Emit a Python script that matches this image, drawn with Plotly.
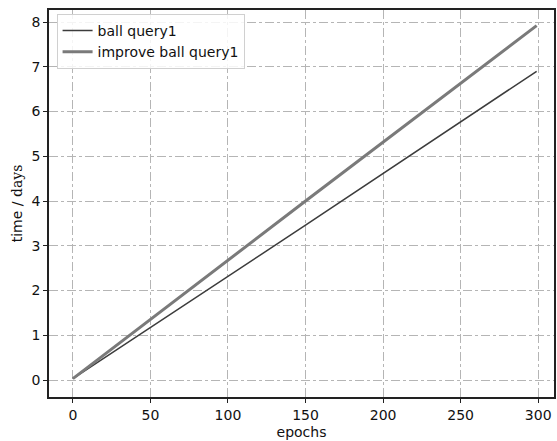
import plotly.graph_objects as go

epochs = [0, 150, 299]
ball_query1 = [0.03, 3.46, 6.9]
improve_ball_query1 = [0.03, 4.0, 7.92]
x_ticks = [0, 50, 100, 150, 200, 250, 300]
y_ticks = [0, 1, 2, 3, 4, 5, 6, 7, 8]

fig = go.Figure()
fig.add_trace(go.Scatter(x=epochs, y=ball_query1, mode="lines", name="ball query1",
                         line=dict(color="#3c3c3c", width=1.5)))
fig.add_trace(go.Scatter(x=epochs, y=improve_ball_query1, mode="lines", name="improve ball query1",
                         line=dict(color="#7a7a7a", width=3)))

axis_common = dict(showline=True, linecolor="#222", linewidth=1.5, mirror=True,
                   ticks="outside", ticklen=4, tickcolor="#222",
                   showgrid=True, gridcolor="#b5b5b5", griddash="dashdot", gridwidth=1,
                   zeroline=False, tickfont=dict(family="DejaVu Sans", size=14, color="#111"))

fig.update_layout(
    width=557, height=441,
    margin=dict(l=49, r=1, t=10, b=44),
    paper_bgcolor="white", plot_bgcolor="white",
    font=dict(family="DejaVu Sans", size=14, color="#111"),
    xaxis=dict(range=[-15.4, 310.2], tickvals=x_ticks,
               title=dict(text="epochs", standoff=6, font=dict(size=14)), **axis_common),
    yaxis=dict(range=[-0.38, 8.27], tickvals=y_ticks,
               title=dict(text='time / <span style="font-family:\'DejaVu Serif\', serif">days</span>', standoff=6,
                          font=dict(size=14)), **axis_common),
    legend=dict(x=0.015, y=0.99, xanchor="left", yanchor="top",
                bgcolor="rgba(255,255,255,0.85)", bordercolor="#d0d0d0", borderwidth=1,
                font=dict(size=14), tracegroupgap=0),
    showlegend=True,
)

fig.write_html("out.html")
